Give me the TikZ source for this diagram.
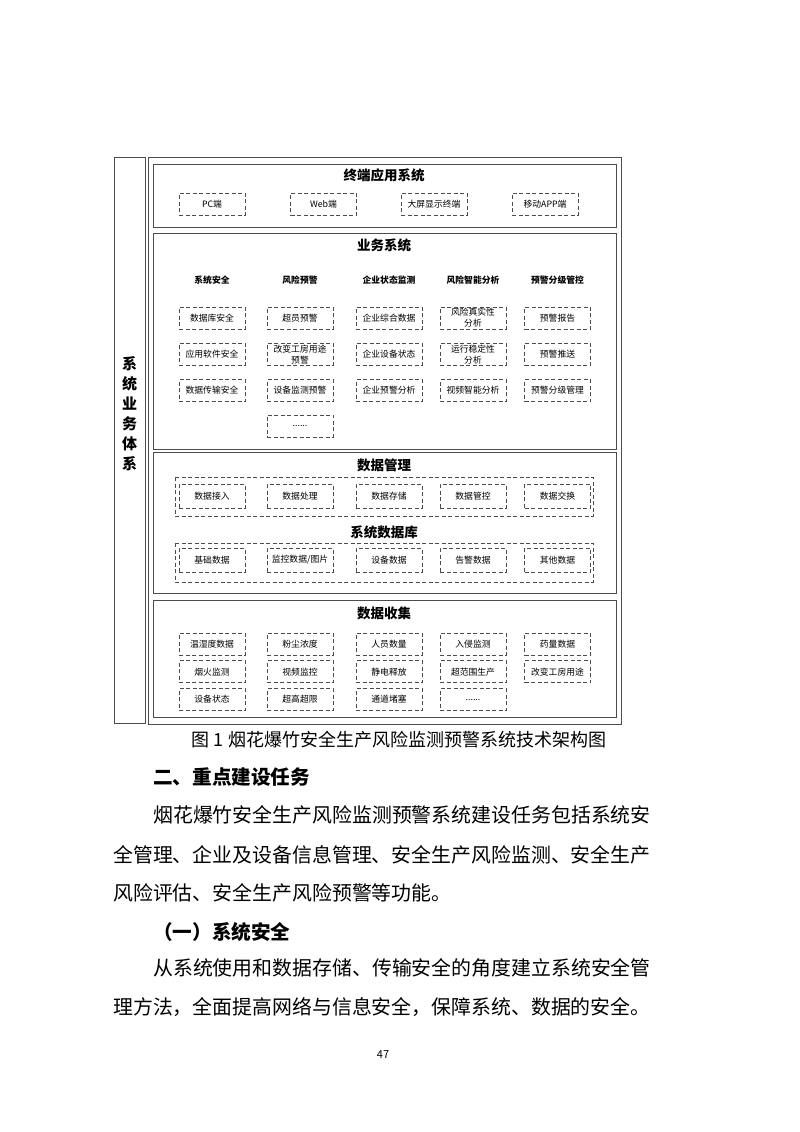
\documentclass[tikz,border=0pt]{standalone}
\usepackage{fontspec}
\setmainfont{Noto Sans CJK SC}
\usetikzlibrary{positioning}

\begin{document}
\begin{tikzpicture}[x=1pt,y=-1pt,
 frame/.style={draw=black!70,line width=0.8pt},
 dashframe/.style={frame,dash pattern=on 4pt off 2.5pt},
 dbox/.style={dashframe,minimum width=66pt,minimum height=22pt,
 inner sep=1pt,align=center,font=\fontsize{8.8}{11}\selectfont},
 ttl/.style={font=\bfseries\fontsize{13.5}{15}\selectfont},
 head/.style={font=\bfseries\fontsize{8.8}{10}\selectfont},
 body/.style={anchor=west,inner sep=0pt,font=\fontsize{19.9}{24}\selectfont}]
\useasboundingbox[fill=white] (0,0) rectangle (800,1132);

% frames
\draw[frame] (114,157) rectangle (145,723);
\draw[frame] (148,157) rectangle (621,724);
\draw[frame] (153,164) rectangle (616,227);
\draw[frame] (153,233) rectangle (616,449);
\draw[frame] (153,452) rectangle (616,593);
\draw[frame] (153,600) rectangle (616,717);
\node[font=\bfseries\fontsize{15}{20}\selectfont,align=center] (side) at (129.5,414)
 {系\\统\\业\\务\\体\\系};

% terminal layer
\node[ttl] (term) at (384,175) {终端应用系统};
\node[dbox] (pc) at (212,204) {PC端};
\node[dbox] (web) at (323.5,204) {Web端};
\node[dbox] (screen) at (434,204) {大屏显示终端};
\node[dbox] (app) at (545,204) {移动APP端};

% business layer
\node[ttl] (biz) at (384,245) {业务系统};
\node[head] (hsec) at (212,280) {系统安全};
\node[head] (hrisk) at (300,280) {风险预警};
\node[head] (hstate) at (389,280) {企业状态监测};
\node[head] (hsmart) at (473,280) {风险智能分析};
\node[head] (hgrade) at (557.5,280) {预警分级管控};
\node[dbox] (sec1) at (212,318) {数据库安全};
\node[dbox,below=13.5pt of sec1] (sec2) {应用软件安全};
\node[dbox,below=13.5pt of sec2] (sec3) {数据传输安全};
\node[dbox] (risk1) at (300,318) {超员预警};
\node[dbox,below=13.5pt of risk1] (risk2) {改变工房用途\\预警};
\node[dbox,below=13.5pt of risk2] (risk3) {设备监测预警};
\node[dbox,below=12.5pt of risk3] (risk4) {......};
\node[dbox] (state1) at (389,318) {企业综合数据};
\node[dbox,below=13.5pt of state1] (state2) {企业设备状态};
\node[dbox,below=13.5pt of state2] (state3) {企业预警分析};
\node[dbox] (smart1) at (473,318) {风险真实性\\分析};
\node[dbox,below=13.5pt of smart1] (smart2) {运行稳定性\\分析};
\node[dbox,below=13.5pt of smart2] (smart3) {视频智能分析};
\node[dbox] (grade1) at (557.5,318) {预警报告};
\node[dbox,below=13.5pt of grade1] (grade2) {预警推送};
\node[dbox,below=13.5pt of grade2] (grade3) {预警分级管理};

% data management layer
\node[ttl] (mgmt) at (384,465) {数据管理};
\draw[dashframe] (175,477) rectangle (593,516);
\node[dbox,minimum height=24pt] (access) at (212,496) {数据接入};
\node[dbox,minimum height=24pt] (process) at (300,496) {数据处理};
\node[dbox,minimum height=24pt] (store) at (389,496) {数据存储};
\node[dbox,minimum height=24pt] (control) at (473,496) {数据管控};
\node[dbox,minimum height=24pt] (exchange) at (557.5,496) {数据交换};
\node[ttl] (db) at (384,532) {系统数据库};
\draw[dashframe] (175,543) rectangle (593,582);
\node[dbox,minimum height=24pt] (basic) at (212,560) {基础数据};
\node[dbox,minimum height=24pt] (monitor) at (300,560) {监控数据/图片};
\node[dbox,minimum height=24pt] (device) at (389,560) {设备数据};
\node[dbox,minimum height=24pt] (alarm) at (473,560) {告警数据};
\node[dbox,minimum height=24pt] (other) at (557.5,560) {其他数据};

% data collection layer
\node[ttl] (collect) at (384,613) {数据收集};
\node[dbox] (humid) at (212,644) {温湿度数据};
\node[dbox,below=5pt of humid] (fire) {烟火监测};
\node[dbox,below=5pt of fire] (status) {设备状态};
\node[dbox] (dust) at (300,644) {粉尘浓度};
\node[dbox,below=5pt of dust] (video) {视频监控};
\node[dbox,below=5pt of video] (limit) {超高超限};
\node[dbox] (staff) at (389,644) {人员数量};
\node[dbox,below=5pt of staff] (static) {静电释放};
\node[dbox,below=5pt of static] (block) {通道堵塞};
\node[dbox] (intrude) at (473,644) {入侵监测};
\node[dbox,below=5pt of intrude] (scope) {超范围生产};
\node[dbox,below=5pt of scope] (more) {......};
\node[dbox] (dose) at (557.5,644) {药量数据};
\node[dbox,below=5pt of dose] (usage) {改变工房用途};

% caption and page text
\node[font=\fontsize{18}{20}\selectfont] (cap) at (399,740)
 {图 1 烟花爆竹安全生产风险监测预警系统技术架构图};
\node[body,font=\bfseries\fontsize{19.6}{24}\selectfont] (sect) at (153,777) {二、重点建设任务};
\node[body] (line1) at (153,815) {烟花爆竹安全生产风险监测预警系统建设任务包括系统安};
\node[body] (line2) at (113,855) {全管理、企业及设备信息管理、安全生产风险监测、安全生产};
\node[body] (line3) at (113,893) {风险评估、安全生产风险预警等功能。};
\node[body,font=\bfseries\fontsize{19.6}{24}\selectfont] (sub) at (153,932) {（一）系统安全};
\node[body] (line4) at (153,968) {从系统使用和数据存储、传输安全的角度建立系统安全管};
\node[body] (line5) at (113,1007) {理方法，全面提高网络与信息安全，保障系统、数据的安全。};
\node[font=\fontsize{11}{12}\selectfont] (page) at (383,1055) {47};
\end{tikzpicture}
\end{document}
